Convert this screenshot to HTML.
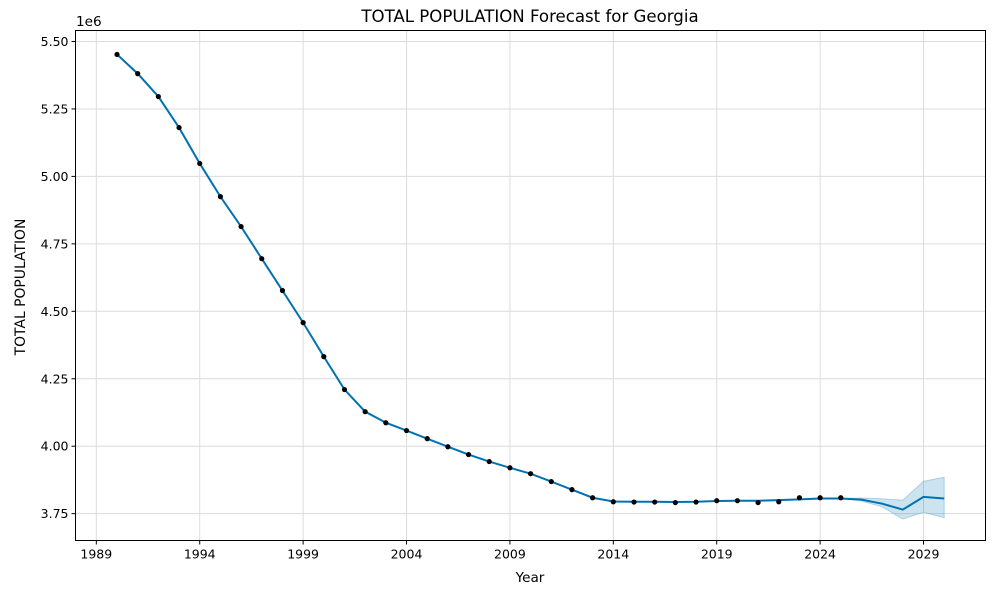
<!DOCTYPE html>
<html><head><meta charset="utf-8"><style>
body{margin:0;background:#fff;font-family:"DejaVu Sans","Liberation Sans",sans-serif}
svg text{font-family:"DejaVu Sans","Liberation Sans",sans-serif;fill:#000}
</style></head><body>
<svg id="chart" width="1000" height="600" viewBox="0 0 1000 600" xmlns="http://www.w3.org/2000/svg"></svg>
<script>
const years=[1990,1991,1992,1993,1994,1995,1996,1997,1998,1999,2000,2001,2002,2003,2004,2005,2006,2007,2008,2009,2010,2011,2012,2013,2014,2015,2016,2017,2018,2019,2020,2021,2022,2023,2024,2025];
const actual=[5.452,5.381,5.296,5.181,5.048,4.925,4.814,4.695,4.577,4.458,4.332,4.210,4.128,4.087,4.058,4.028,3.998,3.969,3.943,3.920,3.898,3.869,3.839,3.809,3.794,3.793,3.793,3.791,3.793,3.798,3.798,3.791,3.794,3.809,3.809,3.809];
const fitYears=[1990,1991,1992,1993,1994,1995,1996,1997,1998,1999,2000,2001,2002,2003,2004,2005,2006,2007,2008,2009,2010,2011,2012,2013,2014,2015,2016,2017,2018,2019,2020,2021,2022,2023,2024,2025,2026,2027,2028,2029,2030];
const fitted=[5.452,5.381,5.296,5.181,5.048,4.925,4.814,4.695,4.577,4.458,4.332,4.210,4.128,4.087,4.058,4.028,3.998,3.969,3.943,3.920,3.898,3.869,3.839,3.809,3.795,3.794,3.794,3.793,3.794,3.797,3.798,3.798,3.800,3.803,3.806,3.806,3.802,3.787,3.765,3.812,3.806];
const bandYears=[2025,2026,2027,2028,2029,2030];
const bandLow=[3.806,3.797,3.775,3.730,3.755,3.735];
const bandHigh=[3.806,3.808,3.805,3.800,3.870,3.885];
const xTicks=[1989,1994,1999,2004,2009,2014,2019,2024,2029];
const yTicks=[3.75,4.00,4.25,4.50,4.75,5.00,5.25,5.50];

const L=75.5,R=985.5,T=30.5,B=540.5;
const X=y=>117+(y-1990)*20.68;
const Y=v=>41.5+(5.5-v)*269.8;
const svg=document.getElementById('chart');
const NS='http://www.w3.org/2000/svg';
function mk(tag,attrs,parent){const e=document.createElementNS(NS,tag);for(const k in attrs)e.setAttribute(k,attrs[k]);(parent||svg).appendChild(e);return e;}

const grid=mk('g',{});


xTicks.forEach(t=>{mk('line',{x1:X(t),x2:X(t),y1:T,y2:B,stroke:'#dcdcdc','stroke-width':1},grid);});
yTicks.forEach(t=>{mk('line',{x1:L,x2:R,y1:Y(t),y2:Y(t),stroke:'#dcdcdc','stroke-width':1},grid);});

let bp=bandYears.map((y,i)=>X(y)+','+Y(bandHigh[i])).join(' ')+' '+bandYears.slice().reverse().map((y,j)=>{const i=bandYears.length-1-j;return X(y)+','+Y(bandLow[i]);}).join(' ');
const band=mk('polygon',{points:bp,fill:'#0072B2','fill-opacity':0.2,stroke:'#0072B2','stroke-opacity':0.25});



const line=mk('polyline',{points:fitYears.map((y,i)=>X(y)+','+Y(fitted[i])).join(' '),fill:'none',stroke:'#0072B2','stroke-width':2});



const pts=mk('g',{});


years.forEach((y,i)=>{const c=mk('circle',{cx:X(y),cy:Y(actual[i]),r:2.6,fill:'#000'},pts);

});

const frame=mk('rect',{x:L,y:T,width:R-L,height:B-T,fill:'none',stroke:'#000','stroke-width':1});



xTicks.forEach(t=>{mk('line',{x1:X(t),x2:X(t),y1:B,y2:B+4,stroke:'#000'});
const tx=mk('text',{x:X(t),y:B+18,'text-anchor':'middle','font-size':12.5});tx.textContent=t;

});
yTicks.forEach(t=>{mk('line',{x1:L-4,x2:L,y1:Y(t),y2:Y(t),stroke:'#000'});
const tx=mk('text',{x:L-7,y:Y(t)+4.5,'text-anchor':'end','font-size':12.5});tx.textContent=t.toFixed(2);

});
</script>
<svg style="position:absolute;left:0;top:0" width="1000" height="600">
<text x="530" y="22" text-anchor="middle" font-size="16.6">TOTAL POPULATION Forecast for Georgia</text>
<text x="530" y="582" text-anchor="middle" font-size="13.6">Year</text>
<text x="25" y="287" text-anchor="middle" font-size="13.9" transform="rotate(-90 25 287)">TOTAL POPULATION</text>
<text x="76" y="26" font-size="13.6">1e6</text>
</svg>
</body></html>
